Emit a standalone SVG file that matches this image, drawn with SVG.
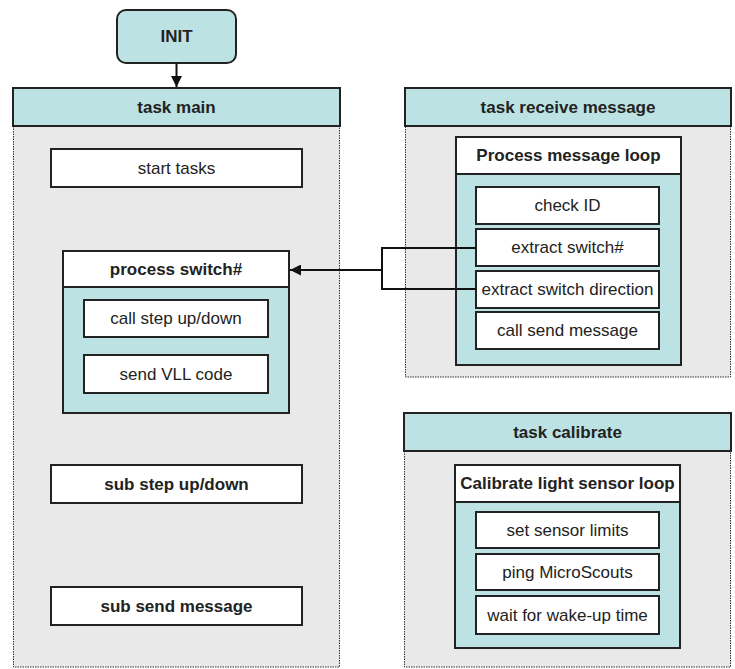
<svg xmlns="http://www.w3.org/2000/svg" width="735" height="669" viewBox="0 0 735 669">
<style>
.bg{fill:#fff}
.body{fill:#e9e9e9;stroke:#333;stroke-width:1;stroke-dasharray:1.5 1}
.hdr{fill:#bde2e3;stroke:#222;stroke-width:2}
.teal{fill:#bde2e3;stroke:#222;stroke-width:2}
.box{fill:#fff;stroke:#222;stroke-width:2}
.t{font-family:"Liberation Sans",Arial,sans-serif;font-size:17px;fill:#222;text-anchor:middle}
.b{font-weight:bold}
.c{fill:none;stroke:#111;stroke-width:2}
</style>
<defs>
<marker id="ah" viewBox="0 0 10 10" refX="10" refY="5" markerWidth="11" markerHeight="11" markerUnits="userSpaceOnUse" orient="auto">
<path d="M0,0 L10,5 L0,10 z" fill="#111"/>
</marker>
</defs>
<rect class="bg" x="0" y="0" width="735" height="669"/>

<g id="init">
<rect class="teal" x="117" y="10" width="119" height="53" rx="9"/>
<text class="t b" x="176.5" y="42">INIT</text>
</g>

<g id="task-main">
<rect class="body" x="13.5" y="126" width="326" height="541"/>
<rect class="hdr" x="13" y="88" width="327" height="38"/>
<text class="t b" x="176.5" y="113">task main</text>
</g>
<g id="start-tasks">
<rect class="box" x="51" y="149" width="251" height="38"/>
<text class="t" x="176.5" y="174">start tasks</text>
</g>
<g id="process-switch">
<rect class="teal" x="63" y="287" width="226" height="126"/>
<rect class="box" x="63" y="251" width="226" height="36"/>
<text class="t b" x="176" y="275">process switch#</text>
</g>
<g id="call-step">
<rect class="box" x="84" y="300" width="184" height="37"/>
<text class="t" x="176" y="324">call step up/down</text>
</g>
<g id="send-vll">
<rect class="box" x="84" y="355" width="184" height="38"/>
<text class="t" x="176" y="380">send VLL code</text>
</g>
<g id="sub-step">
<rect class="box" x="51" y="465" width="251" height="38"/>
<text class="t b" x="176.5" y="490">sub step up/down</text>
</g>
<g id="sub-send">
<rect class="box" x="51" y="587" width="251" height="38"/>
<text class="t b" x="176.5" y="612">sub send message</text>
</g>

<g id="task-receive">
<rect class="body" x="405.5" y="126" width="325" height="251"/>
<rect class="hdr" x="405" y="88" width="326" height="38"/>
<text class="t b" x="568" y="113">task receive message</text>
</g>
<g id="process-loop">
<rect class="teal" x="456" y="174" width="225" height="191"/>
<rect class="box" x="456" y="137" width="225" height="37"/>
<text class="t b" x="568.5" y="161">Process message loop</text>
</g>
<g id="check-id">
<rect class="box" x="476" y="187" width="183" height="37"/>
<text class="t" x="567.5" y="211">check ID</text>
</g>
<g id="extract-switch">
<rect class="box" x="476" y="229" width="183" height="37"/>
<text class="t" x="567.5" y="253">extract switch#</text>
</g>
<g id="extract-direction">
<rect class="box" x="476" y="271" width="183" height="37"/>
<text class="t" x="567.5" y="295">extract switch direction</text>
</g>
<g id="call-send">
<rect class="box" x="476" y="312" width="183" height="37"/>
<text class="t" x="567.5" y="336">call send message</text>
</g>

<g id="task-calibrate">
<rect class="body" x="404.5" y="451" width="326" height="216"/>
<rect class="hdr" x="404" y="413" width="327" height="38"/>
<text class="t b" x="567.5" y="438">task calibrate</text>
</g>
<g id="calibrate-loop">
<rect class="teal" x="455" y="502" width="225" height="146"/>
<rect class="box" x="455" y="465" width="225" height="37"/>
<text class="t b" x="567.5" y="489">Calibrate light sensor loop</text>
</g>
<g id="set-limits">
<rect class="box" x="476" y="512" width="183" height="36"/>
<text class="t" x="567.5" y="536">set sensor limits</text>
</g>
<g id="ping">
<rect class="box" x="476" y="554" width="183" height="36"/>
<text class="t" x="567.5" y="578">ping MicroScouts</text>
</g>
<g id="wait">
<rect class="box" x="476" y="596" width="183" height="38"/>
<text class="t" x="567.5" y="621">wait for wake-up time</text>
</g>

<g id="connectors">
<line class="c" x1="176.5" y1="63" x2="176.5" y2="87" marker-end="url(#ah)"/>
<path class="c" d="M476,248 H382 V289 H476"/>
<line class="c" x1="382" y1="270" x2="290" y2="270" marker-end="url(#ah)"/>
</g>
</svg>
